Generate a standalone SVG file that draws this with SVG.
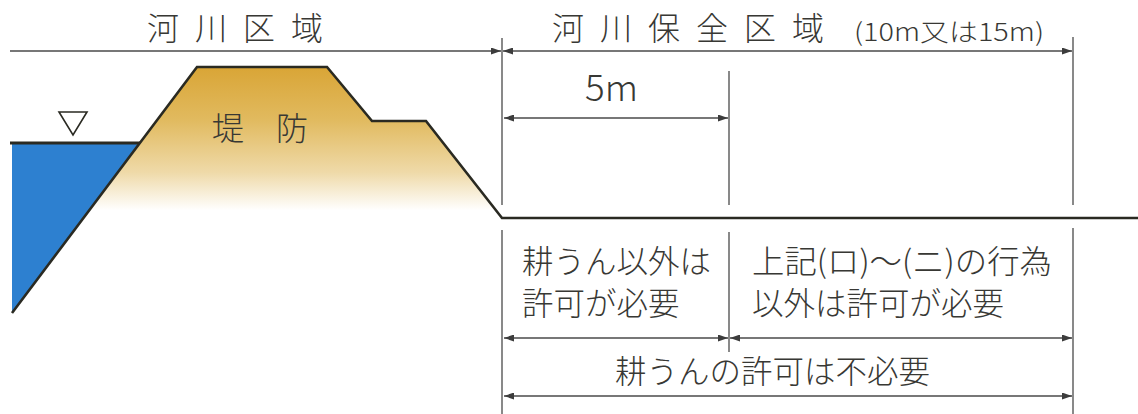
<svg xmlns="http://www.w3.org/2000/svg" width="1138" height="414" viewBox="0 0 1138 414">
  <defs>
    <linearGradient id="earth" x1="0" y1="67" x2="0" y2="218" gradientUnits="userSpaceOnUse">
      <stop offset="0" stop-color="#d9a536"/>
      <stop offset="0.35" stop-color="#e1ba5f"/>
      <stop offset="0.7" stop-color="#efdaa9"/>
      <stop offset="0.95" stop-color="#ffffff"/>
    </linearGradient>
    <marker id="ah" viewBox="0 0 10 7" refX="10" refY="3.5" markerWidth="11" markerHeight="7" markerUnits="userSpaceOnUse" orient="auto-start-reverse">
      <path d="M0,0 L10,3.5 L0,7 z" fill="#3c3c3c"/>
    </marker>
    <style>
      .jp { font-family: "Noto Sans CJK JP", "Noto Sans CJK SC", sans-serif; font-weight: 300; fill: #383834; }
      .dim { stroke: #4a4a4a; stroke-width: 1.3; fill: none; }
      .dimA { stroke: #4a4a4a; stroke-width: 1.3; fill: none; marker-end: url(#ah); }
      .dimB { stroke: #4a4a4a; stroke-width: 1.3; fill: none; marker-start: url(#ah); marker-end: url(#ah); }
      .outline { stroke: #2a2a22; stroke-width: 2.6; fill: none; stroke-linejoin: miter; }
    </style>
  </defs>

  <rect width="1138" height="414" fill="#ffffff"/>

  <!-- levee body -->
  <g id="levee">
    <polygon points="197,67 327,67 372,121 426,121 502,218 83,218" fill="url(#earth)"/>
    <text class="jp" x="212" y="140" font-size="32" letter-spacing="32">堤防</text>
  </g>

  <!-- river water -->
  <g id="water">
    <polygon points="12,143 139.8,143 12,313" fill="#2d80d0"/>
    <line x1="10" y1="143" x2="140" y2="143" stroke="#2a2a22" stroke-width="3"/>
    <polygon points="59,112 87,112 73,135" fill="none" stroke="#2a2a22" stroke-width="1.6"/>
  </g>

  <!-- ground / levee profile -->
  <g id="profile">
    <polyline class="outline" points="12,313 197,67 327,67 372,121 426,121 502,218 1138,218"/>
  </g>

  <!-- section labels -->
  <g id="labels">
    <text class="jp" x="147" y="40" font-size="32" letter-spacing="16">河川区域</text>
    <text class="jp" x="552" y="40" font-size="32" letter-spacing="16">河川保全区域</text>
    <text class="jp" x="854" y="41" font-size="25" textLength="190" lengthAdjust="spacingAndGlyphs">(10m又は15m)</text>
    <text class="jp" x="585" y="101" font-size="36" textLength="53" lengthAdjust="spacingAndGlyphs">5m</text>
    <text class="jp" x="522" y="273" font-size="31.5">耕うん以外は</text>
    <text class="jp" x="522" y="315" font-size="31.5">許可が必要</text>
    <text class="jp" x="752" y="273" font-size="31.5" textLength="300" lengthAdjust="spacingAndGlyphs">上記(ロ)～(ニ)の行為</text>
    <text class="jp" x="752" y="315" font-size="31.5">以外は許可が必要</text>
    <text class="jp" x="615" y="383" font-size="31.5">耕うんの許可は不必要</text>
  </g>

  <!-- dimension lines and arrows -->
  <g id="connectors">
    <line class="dim" x1="502" y1="38" x2="502" y2="205"/>
    <line class="dim" x1="502" y1="230" x2="502" y2="414"/>
    <line class="dim" x1="729" y1="71" x2="729" y2="205"/>
    <line class="dim" x1="729" y1="232" x2="729" y2="352"/>
    <line class="dim" x1="1073" y1="37" x2="1073" y2="205"/>
    <line class="dim" x1="1073" y1="228" x2="1073" y2="414"/>

    <line class="dimA" x1="10" y1="51" x2="501" y2="51"/>
    <line class="dimB" x1="503" y1="51" x2="1072" y2="51"/>
    <line class="dimB" x1="504" y1="118" x2="728" y2="118"/>
    <line class="dimB" x1="504" y1="338" x2="728" y2="338"/>
    <line class="dimB" x1="730" y1="338" x2="1072" y2="338"/>
    <line class="dimB" x1="504" y1="396" x2="1072" y2="396"/>
  </g>
</svg>
